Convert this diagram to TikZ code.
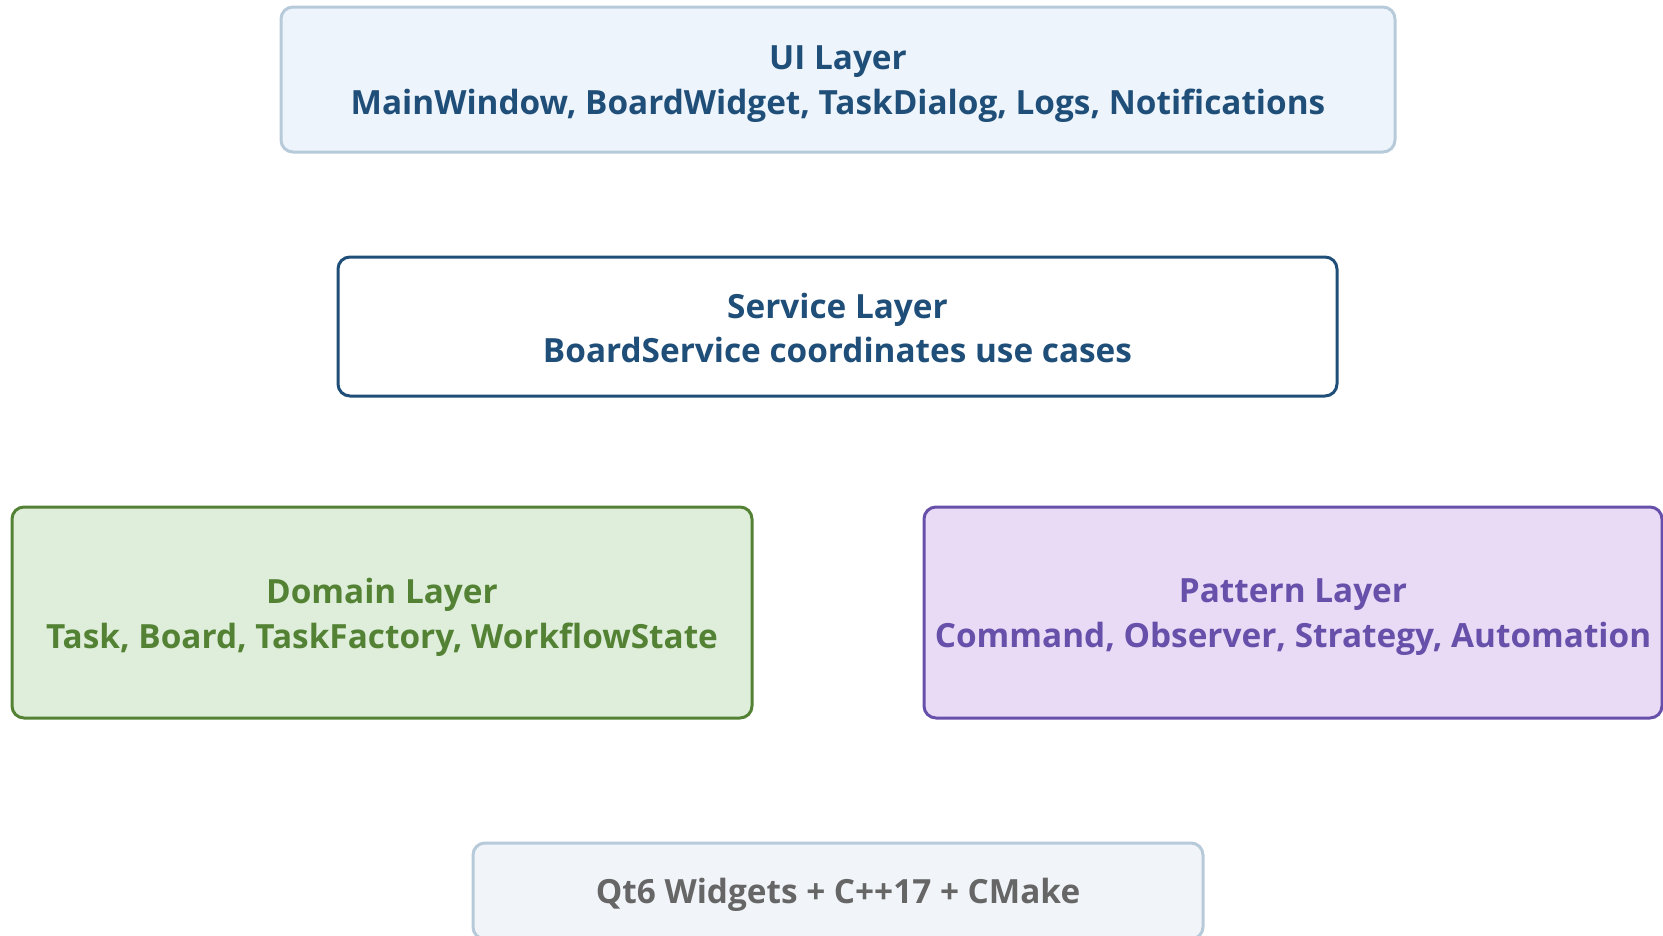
\documentclass[tikz,border=0pt]{standalone}
\usepackage{fontspec}
\setmainfont{Open Sans}
\definecolor{uifill}{HTML}{EDF4FB}
\definecolor{uiline}{HTML}{B7CADA}
\definecolor{navy}{HTML}{1F4E79}
\definecolor{domfill}{HTML}{DEEEDA}
\definecolor{domline}{HTML}{548235}
\definecolor{patfill}{HTML}{E9DAF6}
\definecolor{patline}{HTML}{6750AA}
\definecolor{qtfill}{HTML}{F1F5F9}
\definecolor{qttext}{HTML}{666666}
\tikzset{
  layer/.style={rectangle, rounded corners=9pt, line width=2.25pt, inner sep=0pt},
  lbl/.style={align=center, inner sep=0pt,
    font=\fontsize{25}{33.5}\selectfont\bfseries},
  uibox/.style={layer, draw=uiline, fill=uifill},
  svcbox/.style={layer, draw=navy, fill=white},
  dombox/.style={layer, draw=domline, fill=domfill},
  patbox/.style={layer, draw=patline, fill=patfill},
  qtbox/.style={layer, draw=uiline, fill=qtfill},
}
\begin{document}
\begin{tikzpicture}[x=0.75pt,y=-0.75pt]
\useasboundingbox (0,0) rectangle (1663,935);
\begin{scope}
\clip (0,0) rectangle (1663,935);
\node[uibox, minimum width=835.5pt, minimum height=108.75pt] (ui) at (838,79.5) {};
\node[lbl, text=navy] (uit) at ([yshift=-3.6pt]ui.center)
  {UI Layer\\MainWindow, BoardWidget, TaskDialog, Logs, Notifications};
\node[svcbox, minimum width=749.25pt, minimum height=104.25pt] (svc) at (837.5,326.5) {};
\node[lbl, text=navy] (svct) at ([yshift=-1.2pt]svc.center)
  {Service Layer\\BoardService coordinates use cases};
\node[dombox, minimum width=555pt, minimum height=158.25pt] (dom) at (382,612.5) {};
\node[lbl, text=domline] (domt) at ([yshift=-3.4pt]dom.center)
  {Domain Layer\\Task, Board, TaskFactory, WorkflowState};
\node[patbox, minimum width=553.5pt, minimum height=158.25pt] (pat) at (1293,612.5) {};
\node[lbl, text=patline] (patt) at ([yshift=-3.4pt]pat.center)
  {Pattern Layer\\Command, Observer, Strategy, Automation};
\node[qtbox, minimum width=547.5pt, minimum height=72pt] (qt) at (838,891) {};
\node[lbl, text=qttext] (qtt) at ([yshift=-3.2pt]qt.center)
  {Qt6 Widgets + C++17 + CMake};
\end{scope}
\end{tikzpicture}
\end{document}
